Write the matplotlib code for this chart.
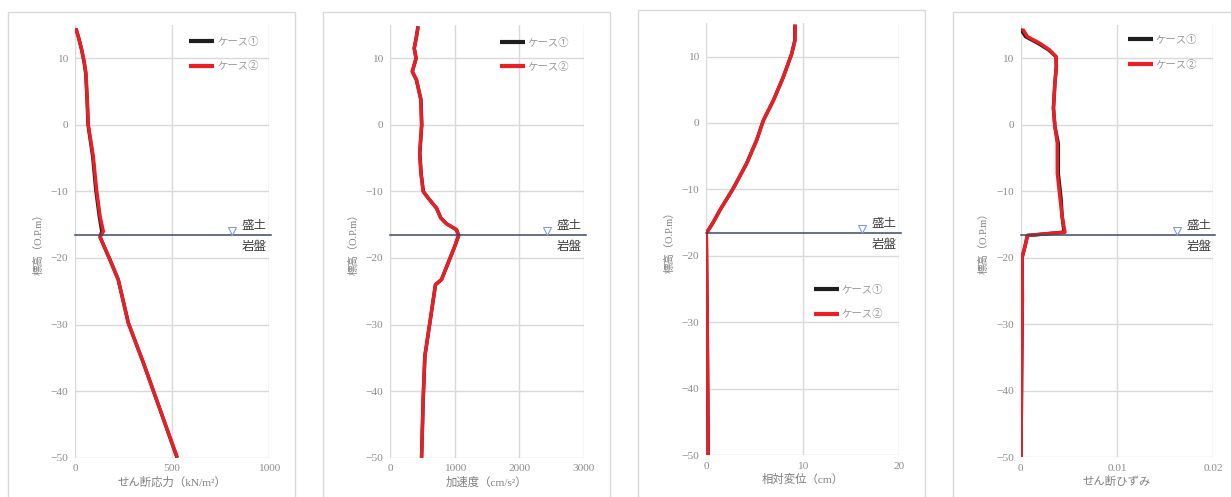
import matplotlib
matplotlib.use("Agg")
import matplotlib.pyplot as plt
from matplotlib.patches import Rectangle
from matplotlib.transforms import blended_transform_factory

plt.rcParams['font.family'] = ['Liberation Serif', 'Noto Sans CJK JP', 'DejaVu Sans']
plt.rcParams['axes.unicode_minus'] = True

# ---- data -------------------------------------------------------------
case_labels = ["ケース①", "ケース②"]
boundary_elev = -16.6
layer_upper = "盛土"
layer_lower = "岩盤"
y_label = "標高（O.P.m）"
y_ticks = [-50, -40, -30, -20, -10, 0, 10]

# shear stress (kN/m2)
elev_tau = [14.5, 13.0, 11.25, 9.5, 7.75, 3.75, 0.0, -4.75, -9.75, -13.75, -16.0,
            -16.85, -20.25, -23.25, -29.75, -35.75, -42.75, -50.0]
tau_case1 = [3, 18, 33, 45, 54, 61, 66, 90, 106, 124, 137, 128, 179, 222, 274, 352,
             438, 526]
tau_case2 = [3, 18, 33, 46, 55, 62, 67, 93, 110, 128, 145, 128, 179, 222, 274, 352,
             438, 528]
tau_ticks = [0, 500, 1000]

# acceleration (cm/s2)
elev_acc = [14.8, 13.25, 11.5, 10.0, 8.0, 6.75, 3.75, 0.0, -2.25, -4.25, -7.25,
            -10.0, -11.0, -12.5, -14.0, -14.85, -15.75, -16.6, -18.25, -20.75,
            -23.25, -24.0, -29.75, -34.75, -41.25, -50.0]
acc_case1 = [430, 405, 371, 400, 342, 405, 476, 488, 472, 458, 478, 512, 588, 716,
             784, 871, 1026, 1060, 1000, 897, 794, 701, 613, 536, 510, 485]
acc_case2 = [433, 407, 371, 400, 340, 407, 474, 485, 470, 455, 474, 510, 588, 716,
             784, 871, 1026, 1062, 1000, 897, 794, 701, 613, 536, 510, 485]
acc_ticks = [0, 1000, 2000, 3000]

# relative displacement (cm)
elev_disp = [14.8, 12.4, 10.4, 6.9, 3.4, 0.4, -2.6, -6.1, -9.85, -13.1, -15.0,
             -16.6, -31.6, -50.0]
disp_case1 = [9.22, 9.2, 8.87, 8.0, 6.97, 5.93, 5.23, 4.19, 2.8, 1.42, 0.7,
              0.0, 0.1, 0.2]
disp_case2 = [9.24, 9.22, 8.88, 8.0, 6.98, 5.94, 5.23, 4.19, 2.8, 1.42, 0.7,
              0.0, 0.1, 0.2]
disp_ticks = [0, 10, 20]

# shear strain
elev_gam = [14.4, 13.25, 12.25, 11.25, 10.25, 8.75, 6.25, 2.5, -0.25, -2.75,
            -7.25, -11.25, -13.75, -16.15, -16.65, -18.25, -20.0, -26.25, -36.25, -50.0]
gam_case1 = [0.0, 0.0005, 0.0018, 0.0029, 0.00366, 0.0037, 0.00355, 0.0034, 0.00355,
             0.0039, 0.0039, 0.0042, 0.0043, 0.0045, 0.0007, 0.00045, 0.00014,
             0.00017, 0.0001, 0.00003]
gam_case2 = [0.0002, 0.0007, 0.002, 0.003, 0.00366, 0.0037, 0.00355, 0.0034, 0.00355,
             0.0038, 0.0038, 0.0041, 0.0043, 0.0046, 0.0007, 0.00045, 0.00014,
             0.00017, 0.0001, 0.00003]
gam_ticks = [0, 0.01, 0.02]
gam_ticklabels = ["0", "0.01", "0.02"]

# ---- style -------------------------------------------------------------
W, H = 1231, 497
C1 = "#1e1e1e"
C2 = "#ea1f26"
GRID = "#d9d9d9"
TICK_C = "#8c8c8c"
LABEL_C = "#7f7f7f"
BOUND_C = "#3b4a63"
MARK_C = "#7f9ad6"

fig = plt.figure(figsize=(W / 100, H / 100), dpi=100)


def px_box(x0, y0, x1, y1):
    """pixel box (top-left origin) -> figure fraction rect"""
    return [x0 / W, 1 - y1 / H, (x1 - x0) / W, (y1 - y0) / H]


def panel(frame, box, elev, v1, v2, xticks, xlabel, leg_anchor,
          xticklabels=None, mark_frac=0.81):
    # outer chart frame
    fx0, fy0, fx1 = frame
    fig.patches.append(Rectangle((fx0 / W, -0.05), (fx1 - fx0) / W, 1.05 - fy0 / H,
                                 transform=fig.transFigure, fill=False,
                                 edgecolor=GRID, linewidth=1.0))
    ax = fig.add_axes(px_box(*box))
    ax.set_xlim(xticks[0], xticks[-1])
    ax.set_ylim(-50, 15)
    ax.set_xticks(xticks)
    if xticklabels is not None:
        ax.set_xticklabels(xticklabels)
    ax.set_yticks(y_ticks)
    for s in ax.spines.values():
        s.set_visible(False)
    ax.grid(True, color=GRID, linewidth=1.0)
    ax.set_axisbelow(True)
    ax.tick_params(length=0, labelsize=8.2, labelcolor=TICK_C)
    ax.tick_params(axis='x', pad=4.5)
    ax.tick_params(axis='y', pad=5)
    ax.set_xlabel(xlabel, fontsize=8.2, color=LABEL_C, labelpad=2.5)
    ax.set_ylabel(y_label, fontsize=7.5, color=LABEL_C, labelpad=5)

    ax.plot(v1, elev, color=C1, lw=2.5, label=case_labels[0], zorder=3,
            solid_capstyle='butt')
    ax.plot(v2, elev, color=C2, lw=2.5, label=case_labels[1], zorder=4,
            solid_capstyle='butt')

    # layer boundary
    ax.axhline(boundary_elev, xmin=0, xmax=1.01, color=BOUND_C, lw=1.1,
               clip_on=False, zorder=5)
    tr = blended_transform_factory(ax.transAxes, ax.transData)
    ax.plot([mark_frac], [boundary_elev + 0.7], transform=tr, marker='v',
            markersize=6, mfc='none', mec=MARK_C, mew=0.8, zorder=6)
    ax.text(0.99, boundary_elev + 1.45, layer_upper, transform=tr, ha='right',
            va='center', fontsize=9, color="#404040")
    ax.text(0.99, boundary_elev - 1.8, layer_lower, transform=tr, ha='right',
            va='center', fontsize=9, color="#404040")

    leg = ax.legend(loc='upper left', bbox_to_anchor=leg_anchor, frameon=False,
                    fontsize=7.5, labelcolor="#999999", handlelength=2.4,
                    handletextpad=0.25, labelspacing=1.4, borderpad=0,
                    borderaxespad=0)
    for h in leg.legend_handles:
        h.set_linewidth(3)
    return ax


panel((8, 12, 295), (75.3, 25, 268.7, 457.7), elev_tau, tau_case1, tau_case2,
      tau_ticks, "せん断応力（kN/m²）", (0.589, 0.973))
panel((323, 12, 610), (390.3, 25, 583.7, 457.7), elev_acc, acc_case1, acc_case2,
      acc_ticks, "加速度（cm/s²）", (0.567, 0.971))
panel((638, 10, 925), (706.3, 23.3, 898.7, 455.3), elev_disp, disp_case1, disp_case2,
      disp_ticks, "相対変位（cm）", (0.56, 0.395))
panel((953, 12, 1240), (1020.7, 25, 1213.3, 457.3), elev_gam, gam_case1, gam_case2,
      gam_ticks, "せん断ひずみ", (0.556, 0.977), xticklabels=gam_ticklabels)

fig.savefig("out.png", dpi=100)
